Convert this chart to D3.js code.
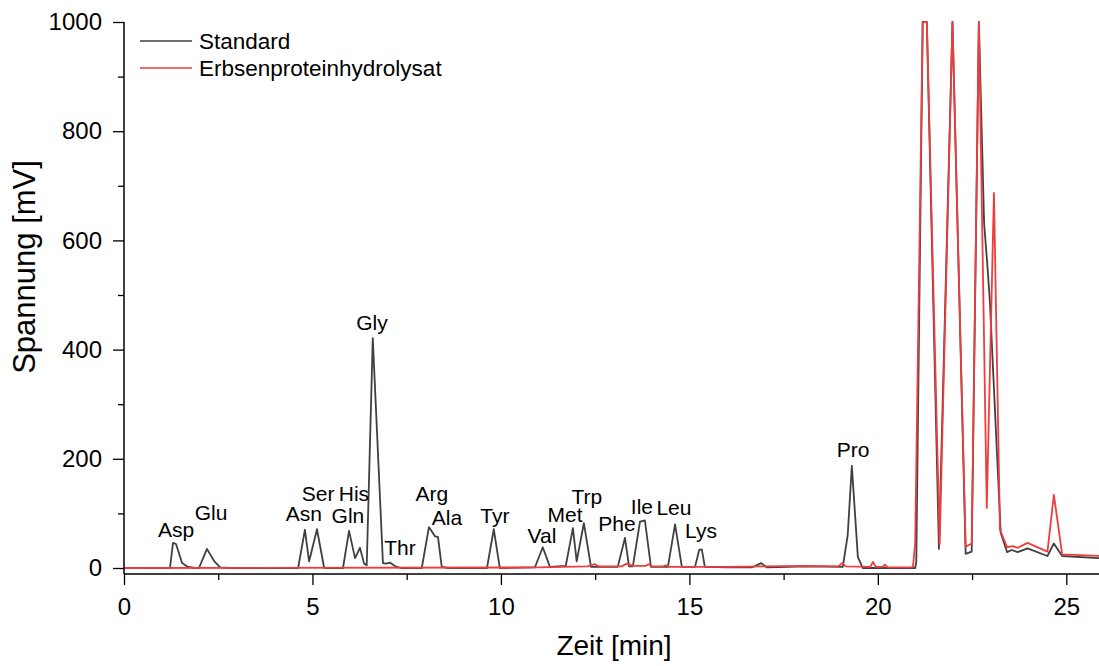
<!DOCTYPE html>
<html>
<head>
<meta charset="utf-8">
<script src="https://cdn.jsdelivr.net/npm/d3@7"></script>
<style>
  body { margin: 0; background: white; }
  svg { font-family: "Liberation Sans", Arial, sans-serif; }
</style>
</head>
<body>
<div id="chart"></div>
<script>
// Standard (schwarz)
const stdTime = [0, 1.22, 1.30, 1.38, 1.54, 1.70, 1.90, 1.99, 2.20, 2.40, 2.55, 2.80,
  4.62, 4.80, 4.91, 5.12, 5.31, 5.81, 5.97, 6.13, 6.26, 6.37, 6.44, 6.60, 6.87, 6.95, 7.05, 7.20, 7.35,
  7.90, 8.09, 8.25, 8.33, 8.43, 8.60, 9.63, 9.81, 9.97, 10.90, 11.11, 11.30, 11.72, 11.91, 12.01, 12.20, 12.39,
  13.10, 13.29, 13.40, 13.50, 13.69, 13.82, 13.98, 14.43, 14.62, 14.80, 15.15, 15.26, 15.33, 15.41,
  16.00, 16.66, 16.90, 17.06, 18.14, 19.07, 19.20, 19.31, 19.47, 19.60, 20.99, 21.02, 21.19, 21.30,
  21.62, 21.98, 22.33, 22.49, 22.68, 22.82, 22.90, 22.97, 23.26, 23.43, 23.55, 23.71, 23.97, 24.50, 24.67, 24.89, 25.90];
const stdValue = [0, 0, 46, 44, 9, 2, 0, 0, 35, 12, 1, 0,
  0, 70, 12, 71, 0, 0, 68, 18, 37, 8, 5, 421, 9, 8, 10, 3, 0,
  0, 75, 58, 57, 2, 0, 0, 71, 0, 1, 38, 2, 4, 73, 12, 82, 2,
  2, 55, 3, 3, 85, 87, 2, 2, 80, 2, 2, 33, 34, 2,
  1, 1, 9, 1, 3, 2, 60, 187, 20, 0, 0, 11, 1000, 1000,
  35, 1000, 26, 30, 1000, 630, 560, 491, 64, 29, 33, 29, 36, 22, 45, 22, 18];

// Erbsenproteinhydrolysat (rot)
const hydTime = [0, 11.0, 12.30, 12.49, 12.60, 13.20, 13.34, 13.50, 13.85, 13.92, 14.00, 14.30, 14.38, 14.46,
  16.0, 18.10, 18.95, 19.05, 19.15, 19.80, 19.87, 19.95, 20.12, 20.19, 20.26, 20.93, 20.99, 21.19, 21.30,
  21.64, 21.98, 22.33, 22.49, 22.68, 22.89, 23.08, 23.24, 23.43, 23.58, 23.71, 23.97, 24.50, 24.67, 24.89, 25.90];
const hydValue = [0, 1, 3, 7, 3, 3, 8, 4, 4, 7, 3, 3, 5, 2,
  2, 4, 3, 9, 3, 2, 11, 2, 2, 6, 1, 1, 45, 1000, 1000,
  44, 1000, 39, 45, 1000, 110, 687, 70, 38, 40, 37, 46, 30, 134, 25, 22];

// Peak-Beschriftungen
const peakNames = ["Asp", "Glu", "Asn", "Ser", "Gln", "His", "Gly", "Thr", "Arg", "Ala", "Tyr",
  "Val", "Met", "Trp", "Phe", "Ile", "Leu", "Lys", "Pro"];
const peakTime = [1.38, 2.31, 4.77, 5.15, 5.94, 6.10, 6.58, 7.32, 8.17, 8.57, 9.84,
  11.09, 11.70, 12.28, 13.08, 13.74, 14.59, 15.31, 19.34];
const peakLabelValue = [70, 101, 99, 136, 95, 136, 449, 37, 136, 93, 95,
  60, 97, 130, 82, 112, 110, 68, 216];

const xTickValues = [0, 5, 10, 15, 20, 25];
const yTickValues = [0, 200, 400, 600, 800, 1000];

const width = 1099, height = 666;
const plotLeft = 124, plotRight = 1104, plotTop = 22, zeroY = 568, axisY = 574;

const x = d3.scaleLinear().domain([0, 26]).range([plotLeft, plotRight]);
const y = d3.scaleLinear().domain([0, 1000]).range([zeroY, plotTop]);

const svg = d3.select('#chart').append('svg')
  .attr('width', width)
  .attr('height', height);

svg.append('clipPath').attr('id', 'plot')
  .append('rect')
    .attr('x', plotLeft).attr('y', plotTop - 1)
    .attr('width', width - plotLeft).attr('height', axisY - plotTop);

const line = d3.line().x(d => x(d[0])).y(d => y(d[1]));

const stdData = stdTime.map((t, i) => [t, stdValue[i]]);
const hydData = hydTime.map((t, i) => [t, hydValue[i]]);

svg.append('path')
  .datum(stdData)
  .attr('clip-path', 'url(#plot)')
  .attr('fill', 'none')
  .attr('stroke', '#404040')
  .attr('stroke-width', 1.8)
  .attr('stroke-linejoin', 'round')
  .attr('d', line);

svg.append('path')
  .datum(hydData)
  .attr('clip-path', 'url(#plot)')
  .attr('fill', 'none')
  .attr('stroke', '#ef3d3d')
  .attr('stroke-width', 1.8)
  .attr('stroke-linejoin', 'round')
  .attr('d', line);

// Achsen
const yAxis = d3.axisLeft(y).tickValues(yTickValues).tickSize(11).tickPadding(11).tickFormat(d3.format('d'));
const yMinor = d3.axisLeft(y).tickValues(d3.range(100, 1000, 200)).tickSize(6).tickFormat('');
const xAxis = d3.axisBottom(x).tickValues(xTickValues).tickSize(11).tickPadding(13);
const xMinor = d3.axisBottom(x).tickValues(d3.range(2.5, 26, 5)).tickSize(6).tickFormat('');

svg.append('g').attr('transform', `translate(${plotLeft},0)`).call(yAxis);
svg.append('g').attr('transform', `translate(${plotLeft},0)`).call(yMinor);
svg.append('g').attr('transform', `translate(0,${axisY})`).call(xAxis);
svg.append('g').attr('transform', `translate(0,${axisY})`).call(xMinor);

svg.selectAll('.domain').remove();
svg.selectAll('.tick line').attr('stroke', '#000').attr('stroke-width', 1.3);
svg.selectAll('.tick text').attr('font-size', 24).attr('font-family', '"Liberation Sans", Arial, sans-serif').attr('fill', '#000');

svg.append('line')
  .attr('x1', plotLeft).attr('x2', plotLeft).attr('y1', plotTop).attr('y2', axisY)
  .attr('stroke', '#000').attr('stroke-width', 1.5);
svg.append('line')
  .attr('x1', plotLeft).attr('x2', width).attr('y1', axisY).attr('y2', axisY)
  .attr('stroke', '#000').attr('stroke-width', 1.5);

svg.append('text')
  .attr('transform', 'translate(35,267) rotate(-90)')
  .attr('text-anchor', 'middle')
  .attr('font-size', 31)
  .text('Spannung [mV]');

svg.append('text')
  .attr('x', 614).attr('y', 655)
  .attr('text-anchor', 'middle')
  .attr('font-size', 28)
  .text('Zeit [min]');

// Peaks
svg.selectAll('.peak')
  .data(peakNames)
  .enter().append('text')
    .attr('class', 'peak')
    .attr('x', (d, i) => x(peakTime[i]))
    .attr('y', (d, i) => y(peakLabelValue[i]))
    .attr('dy', '0.35em')
    .attr('text-anchor', 'middle')
    .attr('font-size', 21)
    .text(d => d);

// Legende
const legend = [
  {name: 'Standard', color: '#404040'},
  {name: 'Erbsenproteinhydrolysat', color: '#ef3d3d'}
];
const lg = svg.selectAll('.legend')
  .data(legend)
  .enter().append('g')
    .attr('transform', (d, i) => `translate(140,${41 + i * 27})`);
lg.append('line')
  .attr('x1', 0).attr('x2', 52)
  .attr('stroke', d => d.color).attr('stroke-width', 1.6);
lg.append('text')
  .attr('x', 59).attr('dy', '0.35em')
  .attr('font-size', 22.5)
  .text(d => d.name);
</script>
</body>
</html>
